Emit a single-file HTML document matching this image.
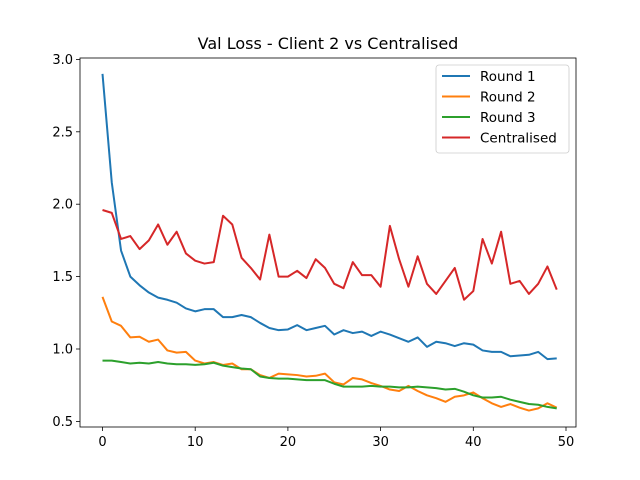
<!DOCTYPE html>
<html><head><meta charset="utf-8"><style>body{margin:0;background:#fff}svg{display:block;font-family:"DejaVu Sans","Liberation Sans",sans-serif}</style></head>
<body>
<svg id="chart" width="640" height="480" viewBox="0 0 640 480"></svg>
<script>
const epochs = Array.from({length:50},(_,i)=>i);
const round1 = [2.90,2.15,1.68,1.50,1.44,1.39,1.355,1.34,1.32,1.28,1.26,1.275,1.275,1.22,1.22,1.235,1.22,1.18,1.145,1.13,1.135,1.165,1.13,1.145,1.16,1.10,1.13,1.11,1.12,1.09,1.12,1.10,1.075,1.05,1.08,1.015,1.05,1.04,1.02,1.04,1.03,0.99,0.98,0.98,0.95,0.955,0.96,0.98,0.93,0.935];
const round2 = [1.36,1.19,1.16,1.08,1.085,1.05,1.065,0.99,0.975,0.98,0.92,0.90,0.91,0.89,0.90,0.86,0.86,0.82,0.80,0.83,0.825,0.82,0.81,0.815,0.83,0.77,0.755,0.80,0.79,0.765,0.745,0.72,0.71,0.745,0.71,0.68,0.66,0.635,0.67,0.68,0.70,0.66,0.625,0.60,0.62,0.595,0.575,0.59,0.625,0.595];
const round3 = [0.92,0.92,0.91,0.90,0.905,0.90,0.91,0.90,0.895,0.895,0.89,0.895,0.905,0.885,0.875,0.865,0.86,0.81,0.80,0.795,0.795,0.79,0.785,0.785,0.785,0.76,0.74,0.74,0.74,0.745,0.74,0.74,0.735,0.735,0.74,0.735,0.73,0.72,0.725,0.705,0.68,0.665,0.665,0.67,0.65,0.635,0.62,0.615,0.60,0.59];
const centralised = [1.96,1.94,1.76,1.78,1.69,1.75,1.86,1.72,1.81,1.66,1.61,1.59,1.60,1.92,1.86,1.63,1.56,1.48,1.79,1.50,1.50,1.54,1.49,1.62,1.56,1.45,1.42,1.60,1.51,1.51,1.43,1.85,1.62,1.43,1.64,1.45,1.38,1.47,1.56,1.34,1.40,1.76,1.59,1.81,1.45,1.47,1.38,1.45,1.57,1.41];
const xTicks = [0,10,20,30,40,50];
const yTicks = [0.5,1.0,1.5,2.0,2.5,3.0];
const yTickLabels = ["0.5","1.0","1.5","2.0","2.5","3.0"];
const seriesNames = ["Round 1","Round 2","Round 3","Centralised"];
const colors = ["#1f77b4","#ff7f0e","#2ca02c","#d62728"];

const svg = document.getElementById('chart');
const NS = 'http://www.w3.org/2000/svg';
const L=80,R=576,T=58,B=427;
const xs = v => 102.5 + v*9.27;
const ys = v => 349 - (v-1.0)*144.8;
function mk(tag, attrs, parent){const e=document.createElementNS(NS,tag);for(const k in attrs)e.setAttribute(k,attrs[k]);(parent||svg).appendChild(e);return e;}

const title = mk('text',{x:328,y:49,'text-anchor':'middle','font-size':16});
title.textContent='Val Loss - Client 2 vs Centralised';



xTicks.forEach(t=>{
  const g = mk('g',{});
  
  
  mk('line',{x1:xs(t),x2:xs(t),y1:B,y2:B+4,stroke:'#000','stroke-width':0.8},g);
  const tx = mk('text',{x:xs(t),y:B+19,'text-anchor':'middle','font-size':13},g);
  tx.textContent=t;
});
yTicks.forEach((t,i)=>{
  const g = mk('g',{});
  
  
  mk('line',{x1:L-4,x2:L,y1:ys(t),y2:ys(t),stroke:'#000','stroke-width':0.8},g);
  const tx = mk('text',{x:L-7,y:ys(t)+4.5,'text-anchor':'end','font-size':13},g);
  tx.textContent=yTickLabels[i];
});

[round1,round2,round3,centralised].forEach((s,k)=>{
  const p = mk('polyline',{points:s.map((v,i)=>xs(epochs[i])+','+ys(v)).join(' '),fill:'none',stroke:colors[k],'stroke-width':2,'stroke-linejoin':'round'});
  
  
});

const frame = mk('rect',{x:L,y:T,width:R-L,height:B-T,fill:'none',stroke:'#000','stroke-width':0.8});



const lg = mk('g',{});


mk('rect',{x:436,y:65,width:133,height:88,rx:3,fill:'#fff','fill-opacity':0.8,stroke:'#ccc','stroke-width':0.8},lg);
seriesNames.forEach((n,k)=>{
  const g = mk('g',{},lg);
  
  
  const y = 76+k*20.5;
  mk('line',{x1:442,x2:470,y1:y,y2:y,stroke:colors[k],'stroke-width':2},g);
  const t = mk('text',{x:480,y:y+5,'font-size':13.5},g);
  t.textContent=n;
});
</script>
</body></html>
